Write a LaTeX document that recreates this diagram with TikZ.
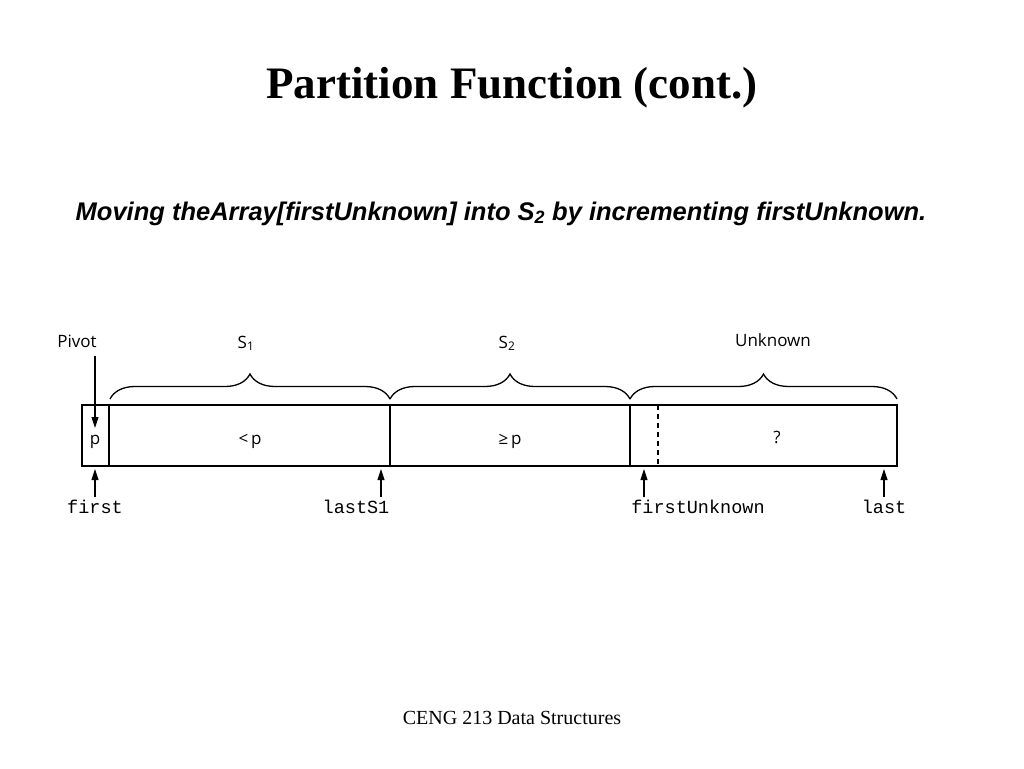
\documentclass[tikz,border=0pt]{standalone}
\usepackage{fontspec}
\setmainfont{Liberation Serif}
\newfontfamily\subfont{Liberation Sans}
\newfontfamily\diafont{Open Sans}
\newfontfamily\codefont{Liberation Mono}
\usetikzlibrary{arrows.meta,decorations.pathreplacing}
\begin{document}
\begin{tikzpicture}[x=1pt,y=-1pt,
  box/.style={line width=2.4pt},
  bracestyle/.style={line width=1.3pt,decorate,decoration={brace,amplitude=25pt,raise=0pt}},
  ptr/.style={line width=1.1pt,-{Triangle[length=11pt,width=7pt]}},
  dlabel/.style={inner sep=0pt,anchor=base,font=\diafont\fontsize{17}{20}\selectfont},
  clabel/.style={inner sep=0pt,anchor=base,font=\codefont\fontsize{18.5}{22}\selectfont}]
\useasboundingbox (0,0) rectangle (1024,768);
\node[inner sep=0pt,font=\bfseries\fontsize{45}{50}\selectfont] (title) at (512,88) {Partition Function (cont.)};
\node[inner sep=0pt,anchor=base,font=\subfont\bfseries\itshape\fontsize{25.5}{28}\selectfont] (sub) at (501,220) {Moving theArray[firstUnknown] into S\textsubscript{2} by incrementing firstUnknown.};
\node[inner sep=0pt,font=\fontsize{20}{24}\selectfont] (foot) at (512,718) {CENG 213 Data Structures};
% array
\draw[box] (82,405) rectangle (897,466);
\coordinate (d1t) at (109,405); \coordinate (d1b) at (109,466);
\coordinate (d2t) at (390,405); \coordinate (d2b) at (390,466);
\coordinate (d3t) at (630,405); \coordinate (d3b) at (630,466);
\coordinate (dst) at (658,405); \coordinate (dsb) at (658,466);
\draw[box] (d1t) -- (d1b);
\draw[box] (d2t) -- (d2b);
\draw[box] (d3t) -- (d3b);
\draw[line width=2.2pt,dash pattern=on 5pt off 4pt] (dst) -- (dsb);
\node[dlabel] (p) at (95,444) {p};
\node[dlabel] (lt) at (250,444) {<\,p};
\node[dlabel] (ge) at (510,444) {≥\,p};
\node[dlabel] (q) at (777,443) {?};
% braces
\coordinate (b0) at (110,399); \coordinate (b1) at (390,399);
\coordinate (b2) at (630,399); \coordinate (b3) at (897,399);
\draw[bracestyle] (b0) -- (b1);
\draw[bracestyle] (b1) -- (b2);
\draw[bracestyle] (b2) -- (b3);
\node[dlabel] (pivot) at (77,347) {Pivot};
\node[dlabel] (s1) at (246,348) {S\textsubscript{1}};
\node[dlabel] (s2) at (507,348) {S\textsubscript{2}};
\node[dlabel] (unk) at (773,346) {Unknown};
% pointers
\coordinate (ps) at (95,356); \coordinate (pt) at (95,428);
\draw[ptr] (ps) -- (pt);
\node[clabel] (first) at (95,513) {first};
\node[clabel] (last1) at (356,513) {lastS1};
\node[clabel] (fu) at (698,513) {firstUnknown};
\node[clabel] (last) at (884,513) {last};
\coordinate (a1) at (95,469); \coordinate (a2) at (381,469);
\coordinate (a3) at (644,469); \coordinate (a4) at (884,469);
\coordinate (e1) at (95,497); \coordinate (e2) at (381,497);
\coordinate (e3) at (644,497); \coordinate (e4) at (884,497);
\draw[ptr] (e1) -- (a1);
\draw[ptr] (e2) -- (a2);
\draw[ptr] (e3) -- (a3);
\draw[ptr] (e4) -- (a4);
\end{tikzpicture}
\end{document}
